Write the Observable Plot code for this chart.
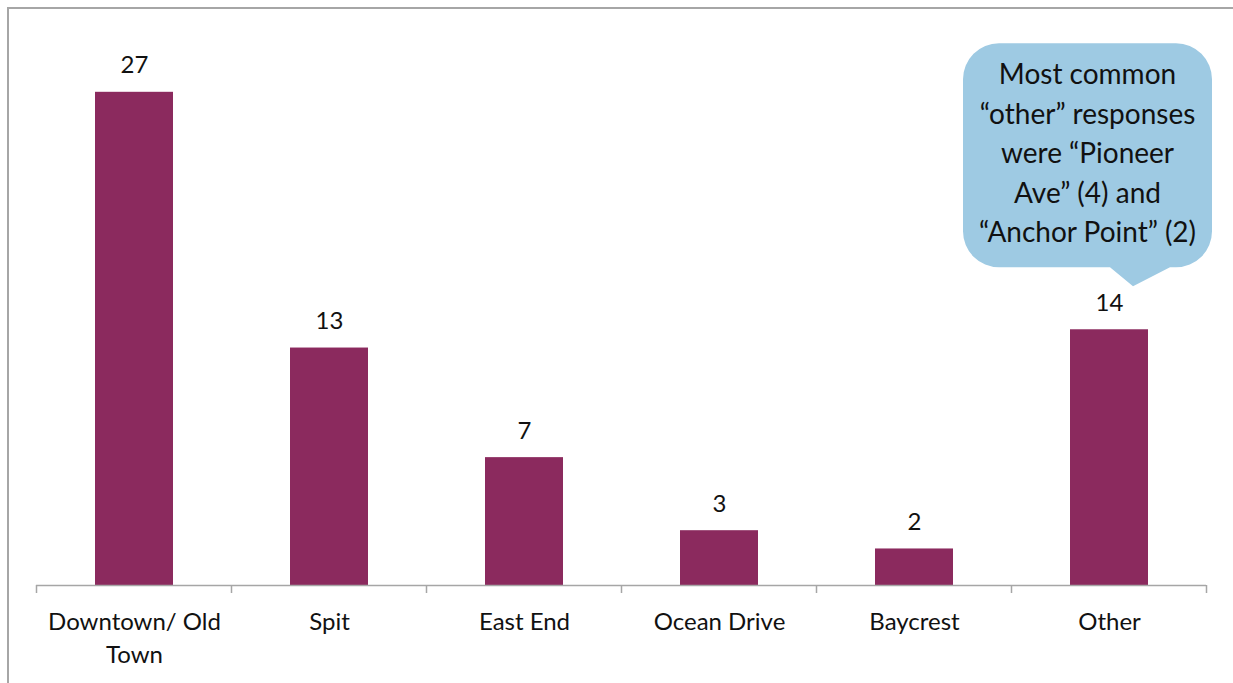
<!DOCTYPE html>
<html>
<head>
<meta charset="utf-8">
<script src="https://cdn.jsdelivr.net/npm/d3@7"></script>
<script src="https://cdn.jsdelivr.net/npm/@observablehq/plot@0.6"></script>
<style>
  body { margin: 0; background: #fff; }
  #wrap { position: relative; width: 1233px; height: 683px; overflow: hidden; }
  #frame { position: absolute; left: 7px; top: 7px; right: -10px; bottom: -10px;
           border-left: 2px solid #a6a6a6; border-top: 2px solid #a6a6a6; pointer-events: none; }
  #chart { position: absolute; left: 0; top: 0; }
</style>
</head>
<body>
<div id="wrap"><div id="chart"></div><div id="frame"></div></div>
<script>
// Neighbourhood responses
const categories = ["Downtown/ Old Town", "Spit", "East End", "Ocean Drive", "Baycrest", "Other"];
const counts = [27, 13, 7, 3, 2, 14];
const tickLabels = ["Downtown/ Old\nTown", "Spit", "East End", "Ocean Drive", "Baycrest", "Other"];
const calloutLines = ["Most common", "“other” responses", "were “Pioneer", "Ave” (4) and", "“Anchor Point” (2)"];
const calloutFor = "Other";

const data = categories.map((c, i) => ({category: c, count: counts[i]}));

const barColor = "#8b2a5e";
const axisColor = "#a6a6a6";
const font = "Lato, sans-serif";

// Boundary tick marks under the baseline, one at each band edge
function bandEdgeTicks(index, scales, values, dims) {
  const x = scales.scales.x;
  const step = x.bandwidth / (1 - x.paddingInner);
  const y0 = scales.y(0);
  const g = d3.create("svg:g").attr("stroke", axisColor).attr("stroke-width", 1.5);
  const edges = categories.map(c => scales.x(c) - (step - x.bandwidth) / 2);
  edges.push(edges[edges.length - 1] + step);
  for (const e of edges) {
    g.append("line").attr("x1", e).attr("x2", e).attr("y1", y0).attr("y2", y0 + 8);
  }
  return g.node();
}

// Speech-bubble note sitting above the "Other" bar
function callout(index, scales, values, dims) {
  const x = scales.scales.x;
  const cx = scales.x(calloutFor) + x.bandwidth / 2;
  const v = counts[categories.indexOf(calloutFor)];
  const tipY = scales.y(v) - 43;
  const tipX = cx + 24;
  const boxBottom = tipY - 19;
  const boxTop = boxBottom - 224;
  const boxLeft = cx - 146, boxRight = cx + 103;
  const r = 36;
  const p = d3.path();
  p.moveTo(boxLeft + r, boxTop);
  p.lineTo(boxRight - r, boxTop);
  p.arcTo(boxRight, boxTop, boxRight, boxTop + r, r);
  p.lineTo(boxRight, boxBottom - r);
  p.arcTo(boxRight, boxBottom, boxRight - r, boxBottom, r);
  p.lineTo(tipX + 37, boxBottom);
  p.lineTo(tipX, tipY);
  p.lineTo(tipX - 23, boxBottom);
  p.lineTo(boxLeft + r, boxBottom);
  p.arcTo(boxLeft, boxBottom, boxLeft, boxBottom - r, r);
  p.lineTo(boxLeft, boxTop + r);
  p.arcTo(boxLeft, boxTop, boxLeft + r, boxTop, r);
  p.closePath();
  const g = d3.create("svg:g");
  g.append("path").attr("d", p.toString()).attr("fill", "#9ecae3");
  const midX = (boxLeft + boxRight) / 2;
  const lh = 39.5;
  const firstBaseline = boxTop + 41;
  g.selectAll("text").data(calloutLines).join("text")
    .attr("x", midX)
    .attr("y", (d, i) => firstBaseline + i * lh)
    .attr("text-anchor", "middle")
    .attr("font-family", font)
    .attr("font-size", 28)
    .attr("fill", "#111")
    .text(d => d);
  return g.node();
}

const chart = Plot.plot({
  width: 1233,
  height: 683,
  marginTop: 37,
  marginBottom: 98,
  marginLeft: 36,
  marginRight: 27,
  style: {fontFamily: font, background: "transparent"},
  x: {domain: categories, paddingInner: 0.6, paddingOuter: 0.3, label: null},
  y: {domain: [0, 30], axis: null},
  marks: [
    Plot.barY(data, {x: "category", y: "count", fill: barColor}),
    Plot.ruleY([0], {stroke: axisColor, strokeWidth: 1.5}),
    bandEdgeTicks,
    Plot.text(data, {x: "category", y: "count", text: d => String(d.count), dy: -19,
                     lineAnchor: "bottom", fontSize: 24, fill: "#111"}),
    Plot.axisX({tickSize: 0, tickPadding: 21, fontSize: 24, lineHeight: 1.38,
                tickFormat: (d) => tickLabels[categories.indexOf(d)], color: "#111"}),
    callout
  ]
});

document.getElementById("chart").appendChild(chart);
</script>
</body>
</html>
